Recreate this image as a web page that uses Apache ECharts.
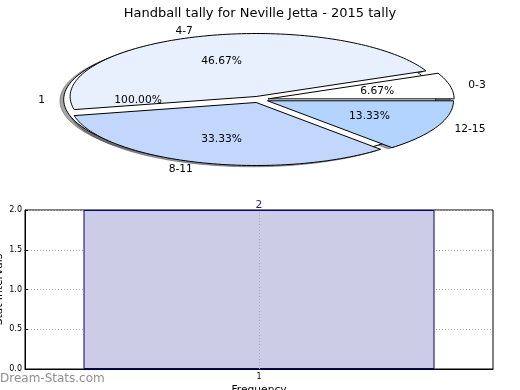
<!DOCTYPE html>
<html>
<head>
<meta charset="utf-8">
<script src="https://cdn.jsdelivr.net/npm/echarts@6/dist/echarts.min.js"></script>
<style>
html,body{margin:0;padding:0;background:#fff;}
#chart{width:520px;height:390px;}
</style>
</head>
<body>
<div id="chart"></div>
<script>
// ---- data ----
const titleText = 'Handball tally for Neville Jetta - 2015 tally';
const pieCategories = ['0-3', '4-7', '8-11', '12-15'];
const pieValues = [1, 7, 5, 2];
const outerCategories = ['1'];
const outerValues = [1];
const barCategories = ['1'];
const barValues = [2];
const yTickLabels = ['0.0', '0.5', '1.0', '1.5', '2.0'];

// ---- styles / layout ----
const pieColors = ['#ffffff', '#e8f0fe', '#c3d6fb', '#b3d4fe'];
const outerColors = ['#ffffff'];
const FONT = 'DejaVu Sans';
const CX = 259, CY = 99.5, RX = 186, RY = 63;
const PIE_H = 200;
const EXPLODE = 0.05;

function buildWedges(vals, cats, colors) {
  const total = vals.reduce((a, b) => a + b, 0);
  let a = 0;
  return vals.map((v, i) => {
    const t1 = a;
    a += v / total * 360;
    return { t1: t1, t2: a, frac: v / total, name: cats[i], color: colors[i] };
  });
}
const outerW = buildWedges(outerValues, outerCategories, outerColors);
const innerW = buildWedges(pieValues, pieCategories, pieColors);
const allW = outerW.concat(innerW);

function wedgePoints(w, api, dx, dy) {
  const mid = (w.t1 + w.t2) / 2 * Math.PI / 180;
  const ox = EXPLODE * Math.cos(mid) + dx, oy = EXPLODE * Math.sin(mid) + dy;
  const full = Math.abs(w.t2 - w.t1 - 360) < 1e-9;
  const pts = [];
  if (!full) pts.push(api.coord([ox, oy]));
  const n = Math.max(8, Math.ceil((w.t2 - w.t1) / 1.5));
  for (let k = 0; k <= n; k++) {
    const t = (w.t1 + (w.t2 - w.t1) * k / n) * Math.PI / 180;
    pts.push(api.coord([ox + Math.cos(t), oy + Math.sin(t)]));
  }
  return pts;
}
function shadowColor(hex) {
  const c = echarts.color.parse(hex);
  return 'rgba(' + Math.round(c[0] * 0.3) + ',' + Math.round(c[1] * 0.3) + ',' + Math.round(c[2] * 0.3) + ',0.5)';
}

const chart = echarts.init(document.getElementById('chart'), null, { renderer: 'canvas' });

const option = {
  animation: false,
  backgroundColor: '#fff',
  title: {
    text: titleText, left: 'center', top: 2,
    textStyle: { fontFamily: FONT, fontSize: 13, fontWeight: 'normal', color: '#000' }
  },
  grid: [
    { left: 0, right: 0, top: 0, height: PIE_H, show: false, containLabel: false, outerBoundsMode: 'none' },
    { left: 25, right: 27, top: 210, bottom: 21, show: true, borderColor: '#000', borderWidth: 1,
      backgroundColor: 'transparent', containLabel: false, outerBoundsMode: 'none' }
  ],
  xAxis: [
    { gridIndex: 0, type: 'value', min: -CX / RX, max: (520 - CX) / RX, show: false },
    {
      gridIndex: 1, type: 'category', data: barCategories, boundaryGap: true,
      axisLine: { lineStyle: { color: '#000' } },
      axisTick: { alignWithLabel: true, inside: true, length: 4, lineStyle: { color: '#000' } },
      axisLabel: { fontFamily: FONT, fontSize: 8, color: '#000', margin: 4 },
      splitLine: { show: false },
      name: 'Frequency', nameLocation: 'middle', nameGap: 16, nameMoveOverlap: false,
      nameTextStyle: { fontFamily: FONT, fontSize: 10.7, color: '#000' }
    }
  ],
  yAxis: [
    { gridIndex: 0, type: 'value', min: -(PIE_H - CY) / RY, max: CY / RY, show: false },
    {
      gridIndex: 1, type: 'value', min: 0, max: 2, interval: 0.5,
      axisLine: { show: true, lineStyle: { color: '#000' } },
      axisTick: { show: true, inside: true, length: 3, lineStyle: { color: '#000' } },
      axisLabel: { fontFamily: FONT, fontSize: 8, color: '#000', margin: 3,
        formatter: (v) => yTickLabels[Math.round(v / 0.5)] },
      splitLine: { show: true, lineStyle: { color: '#aaaaaa', type: [1, 2], width: 1 } },
      name: 'Stat Intervals', nameLocation: 'middle', nameGap: 20, nameMoveOverlap: false,
      nameTextStyle: { fontFamily: FONT, fontSize: 10.7, color: '#000' }
    }
  ],
  graphic: [
    { type: 'text', left: 0, top: 373,
      style: { text: 'Dream-Stats.com', fill: '#8f8f8f', font: '12px "DejaVu Sans"' } }
  ],
  series: [
    {
      type: 'custom', xAxisIndex: 0, yAxisIndex: 0, clip: false, z: 1,
      data: allW.map((w, i) => ({ value: [0, 0, i], name: w.name })),
      renderItem: function (params, api) {
        const w = allW[params.dataIndex];
        const sc = shadowColor(w.color);
        return { type: 'polygon', shape: { points: wedgePoints(w, api, -0.02, -0.02) },
          style: { fill: sc, stroke: sc, lineWidth: 1 } };
      }
    },
    {
      type: 'custom', xAxisIndex: 0, yAxisIndex: 0, clip: false, z: 2,
      data: outerValues.map((v, i) => ({ value: [0, 0, v], name: outerCategories[i] })),
      renderItem: function (params, api) {
        const w = outerW[params.dataIndex];
        return { type: 'polygon', shape: { points: wedgePoints(w, api, 0, 0) },
          style: { fill: w.color, stroke: '#000', lineWidth: 1 } };
      }
    },
    {
      type: 'custom', xAxisIndex: 0, yAxisIndex: 0, clip: false, z: 3,
      data: pieValues.map((v, i) => ({ value: [0, 0, v], name: pieCategories[i] })),
      renderItem: function (params, api) {
        const w = innerW[params.dataIndex];
        return { type: 'polygon', shape: { points: wedgePoints(w, api, 0, 0) },
          style: { fill: w.color, stroke: '#000', lineWidth: 1 } };
      }
    },
    {
      type: 'custom', xAxisIndex: 0, yAxisIndex: 0, clip: false, z: 4,
      data: allW.map((w, i) => ({ value: [0, 0, i], name: w.name })),
      renderItem: function (params, api) {
        const w = allW[params.dataIndex];
        const mid = (w.t1 + w.t2) / 2 * Math.PI / 180;
        const c = Math.cos(mid), s = Math.sin(mid);
        const lp = api.coord([(EXPLODE + 1.1) * c, (EXPLODE + 1.1) * s]);
        const pp = api.coord([(EXPLODE + 0.6) * c, (EXPLODE + 0.6) * s]);
        const font = '10.7px "DejaVu Sans"';
        return { type: 'group', children: [
          { type: 'text', x: lp[0], y: lp[1] + 0.5,
            style: { text: w.name, font: font, fill: '#000', align: c > 0 ? 'left' : 'right', verticalAlign: 'middle' } },
          { type: 'text', x: pp[0], y: pp[1] + 0.5,
            style: { text: (w.frac * 100).toFixed(2) + '%', font: font, fill: '#000', align: 'center', verticalAlign: 'middle' } }
        ] };
      }
    },
    {
      type: 'bar', xAxisIndex: 1, yAxisIndex: 1, data: barValues, barWidth: '75%',
      itemStyle: { color: '#ccccE6', borderColor: '#000080', borderWidth: 1 },
      label: { show: true, position: 'top', distance: -1, color: '#1a1a80', fontFamily: FONT, fontSize: 10.7 },
      markLine: {
        silent: true, symbol: 'none', label: { show: false },
        lineStyle: { color: '#aaaaaa', type: [1, 2], width: 1 },
        data: [{ xAxis: barCategories[0] }]
      },
      z: 2
    }
  ]
};
chart.setOption(option);
</script>
</body>
</html>
